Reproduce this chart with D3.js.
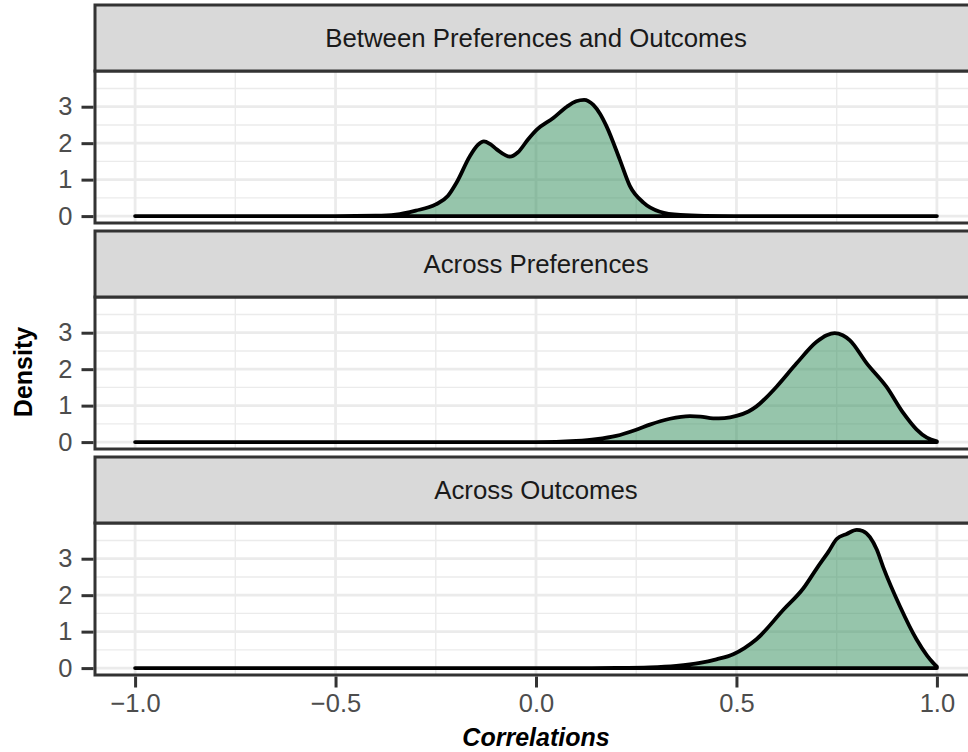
<!DOCTYPE html>
<html>
<head>
<meta charset="utf-8">
<script src="https://cdn.jsdelivr.net/npm/d3@7"></script>
<style>
  html, body { margin: 0; padding: 0; background: #ffffff; }
  svg { display: block; font-family: "Liberation Sans", Arial, Helvetica, sans-serif; }
</style>
</head>
<body>
<svg id="chart" width="968" height="752"></svg>
<script>
// ---------------- data ----------------
const facetTitles = ["Between Preferences and Outcomes", "Across Preferences", "Across Outcomes"];

const betweenX = [-1.0, -0.5, -0.4, -0.35, -0.3, -0.25, -0.22, -0.198, -0.165, -0.145, -0.13, -0.115, -0.098, -0.065, -0.045, -0.02, 0.002, 0.043, 0.077, 0.1, 0.12, 0.143, 0.16, 0.176, 0.209, 0.234, 0.268, 0.309, 0.36, 0.42, 0.5, 1.0];
const betweenD = [0, 0, 0.01, 0.04, 0.15, 0.32, 0.55, 0.92, 1.64, 1.95, 2.05, 1.98, 1.83, 1.63, 1.75, 2.1, 2.37, 2.69, 3.0, 3.15, 3.19, 3.05, 2.8, 2.46, 1.55, 0.83, 0.37, 0.12, 0.03, 0.005, 0, 0];

const prefX = [-1.0, 0.0, 0.05, 0.1, 0.15, 0.2, 0.25, 0.284, 0.334, 0.384, 0.41, 0.442, 0.47, 0.5, 0.53, 0.55, 0.6, 0.65, 0.7, 0.725, 0.745, 0.765, 0.783, 0.825, 0.874, 0.916, 0.949, 0.975, 1.0];
const prefD = [0, 0, 0.005, 0.03, 0.08, 0.17, 0.34, 0.48, 0.64, 0.71, 0.7, 0.65, 0.66, 0.72, 0.84, 0.98, 1.52, 2.16, 2.75, 2.93, 2.99, 2.93, 2.79, 2.16, 1.52, 0.8, 0.35, 0.12, 0.02];

const outX = [-1.0, 0.1, 0.2, 0.284, 0.35, 0.409, 0.45, 0.492, 0.52, 0.55, 0.617, 0.667, 0.7, 0.73, 0.75, 0.775, 0.8, 0.815, 0.833, 0.85, 0.866, 0.908, 0.949, 0.975, 0.99, 1.0];
const outD = [0, 0, 0.005, 0.02, 0.06, 0.14, 0.24, 0.38, 0.55, 0.79, 1.6, 2.19, 2.73, 3.2, 3.54, 3.68, 3.79, 3.76, 3.59, 3.25, 2.77, 1.69, 0.79, 0.35, 0.15, 0.04];

const xMajor = [-1, -0.5, 0, 0.5, 1];
const xMinor = [-0.75, -0.25, 0.25, 0.75];
const xTickLabels = ["\u22121.0", "\u22120.5", "0.0", "0.5", "1.0"];
const yMajor = [0, 1, 2, 3];
const yMinor = [0.5, 1.5, 2.5, 3.5];
const yTickLabels = ["0", "1", "2", "3"];

const xLabel = "Correlations";
const yLabel = "Density";

// ---------------- layout ----------------
const svg = d3.select("#chart");
const panelLeft = 95, panelRight = 977;
const stripTops = [5, 231, 457];
const stripH = 66, bodyH = 152;
const densMax = 3.79;
const yDomain = [-0.05 * densMax, 1.05 * densMax];

const x = d3.scaleLinear().domain([-1.1, 1.1]).range([panelLeft, panelRight]);

const series = [
  betweenX.map((v, i) => [v, betweenD[i]]),
  prefX.map((v, i) => [v, prefD[i]]),
  outX.map((v, i) => [v, outD[i]])
];

const grey20 = "#333333";

facetTitles.forEach((title, p) => {
  const sTop = stripTops[p];
  const bTop = sTop + stripH;
  const bBot = bTop + bodyH;
  const y = d3.scaleLinear().domain(yDomain).range([bBot, bTop]);
  const g = svg.append("g");

  g.append("rect").attr("x", panelLeft).attr("y", bTop)
    .attr("width", panelRight - panelLeft).attr("height", bodyH).attr("fill", "#ffffff");

  g.selectAll(".xmin").data(xMinor).join("line")
    .attr("x1", d => x(d)).attr("x2", d => x(d)).attr("y1", bTop).attr("y2", bBot)
    .attr("stroke", "#ebebeb").attr("stroke-width", 1.4);
  g.selectAll(".ymin").data(yMinor).join("line")
    .attr("x1", panelLeft).attr("x2", panelRight).attr("y1", d => y(d)).attr("y2", d => y(d))
    .attr("stroke", "#ebebeb").attr("stroke-width", 1.4);
  g.selectAll(".xmaj").data(xMajor).join("line")
    .attr("x1", d => x(d)).attr("x2", d => x(d)).attr("y1", bTop).attr("y2", bBot)
    .attr("stroke", "#ebebeb").attr("stroke-width", 2.8);
  g.selectAll(".ymaj").data(yMajor).join("line")
    .attr("x1", panelLeft).attr("x2", panelRight).attr("y1", d => y(d)).attr("y2", d => y(d))
    .attr("stroke", "#ebebeb").attr("stroke-width", 2.8);

  const area = d3.area()
    .x(d => x(d[0])).y0(y(0)).y1(d => y(d[1]))
    .curve(d3.curveMonotoneX);
  g.append("path").datum(series[p])
    .attr("d", area)
    .attr("fill", "#2e8b57").attr("fill-opacity", 0.5)
    .attr("stroke", "#000000").attr("stroke-width", 3.8)
    .attr("stroke-linejoin", "round").attr("stroke-linecap", "round");

  g.append("rect").attr("x", panelLeft).attr("y", bTop)
    .attr("width", panelRight - panelLeft).attr("height", bodyH)
    .attr("fill", "none").attr("stroke", grey20).attr("stroke-width", 3);

  g.append("rect").attr("x", panelLeft).attr("y", sTop)
    .attr("width", panelRight - panelLeft).attr("height", stripH)
    .attr("fill", "#d9d9d9").attr("stroke", grey20).attr("stroke-width", 3);
  g.append("text").attr("x", (panelLeft + panelRight) / 2).attr("y", sTop + stripH / 2)
    .attr("dy", "0.36em").attr("text-anchor", "middle")
    .attr("font-size", 25.8).attr("fill", "#1a1a1a").text(title);

  const yAxis = d3.axisLeft(y).tickValues(yMajor).tickSize(12).tickPadding(9)
    .tickFormat((d, i) => yTickLabels[i]);
  const ya = g.append("g").attr("transform", `translate(${panelLeft - 1.5},0)`).call(yAxis);
  ya.select(".domain").remove();
  ya.selectAll(".tick line").attr("stroke", grey20).attr("stroke-width", 3);
  ya.selectAll(".tick text").attr("font-size", 25.5).attr("fill", "#4d4d4d")
    .attr("font-family", "'Liberation Sans', Arial, sans-serif");

  if (p === facetTitles.length - 1) {
    const xAxis = d3.axisBottom(x).tickValues(xMajor).tickSize(11).tickPadding(6)
      .tickFormat((d, i) => xTickLabels[i]);
    const xa = g.append("g").attr("transform", `translate(0,${bBot + 1.5})`).call(xAxis);
    xa.select(".domain").remove();
    xa.selectAll(".tick line").attr("stroke", grey20).attr("stroke-width", 3);
    xa.selectAll(".tick text").attr("font-size", 25.5).attr("fill", "#4d4d4d")
      .attr("font-family", "'Liberation Sans', Arial, sans-serif");
  }
});

svg.append("text").attr("x", (panelLeft + panelRight) / 2).attr("y", 746)
  .attr("text-anchor", "middle").attr("font-size", 25).attr("font-weight", "bold")
  .attr("font-style", "italic").attr("fill", "#000000").text(xLabel);

svg.append("text").attr("transform", "translate(32,372) rotate(-90)")
  .attr("text-anchor", "middle").attr("font-size", 25).attr("font-weight", "bold")
  .attr("fill", "#000000").text(yLabel);
</script>
</body>
</html>
